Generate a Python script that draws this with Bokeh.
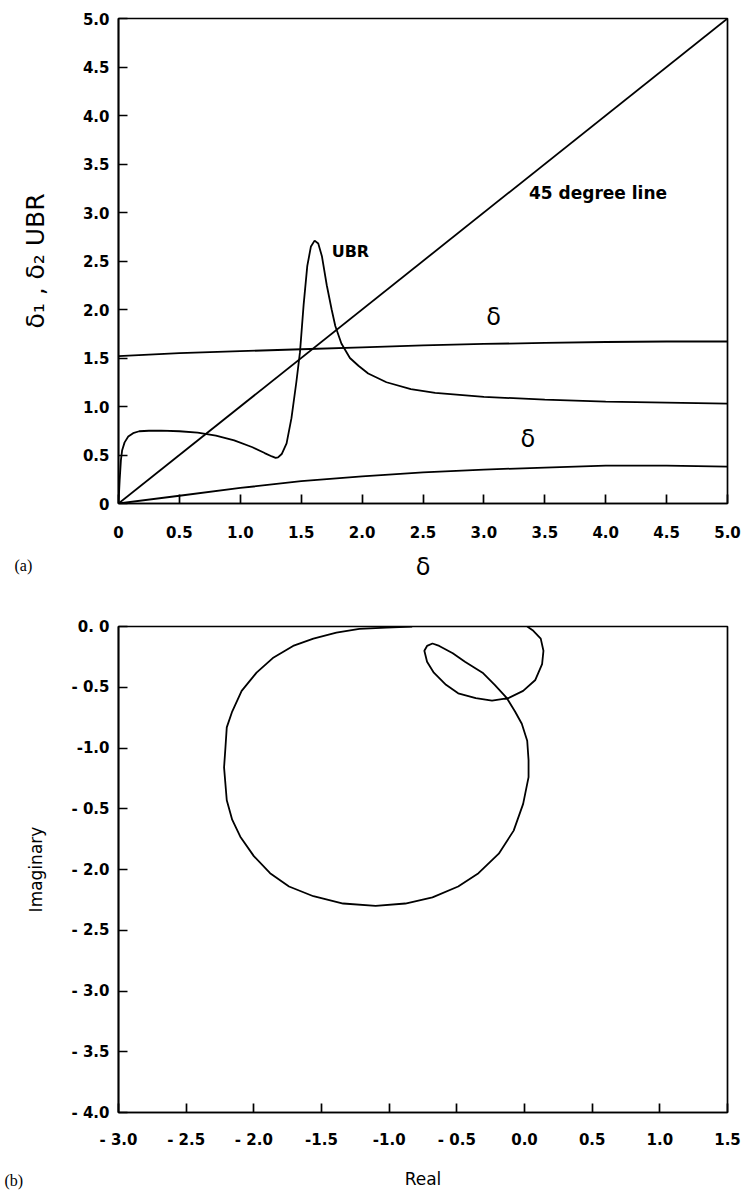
from bokeh.plotting import figure
from bokeh.layouts import column
from bokeh.models import Range1d, FixedTicker, Label
from bokeh.embed import file_html
from bokeh.resources import INLINE

# ---- panel (a): delta_1, delta_2 and UBR against delta ----
delta_x = [0.0, 0.5, 1.0, 1.5, 2.0, 2.5, 3.0, 3.5, 4.0, 4.5, 5.0]
delta_upper = [1.52, 1.55, 1.57, 1.59, 1.61, 1.63, 1.645, 1.655, 1.665, 1.67, 1.67]
delta_lower = [0.0, 0.08, 0.16, 0.23, 0.28, 0.32, 0.35, 0.37, 0.39, 0.39, 0.38]

ubr_x = [0.0, 0.01, 0.02, 0.03, 0.05, 0.08, 0.12, 0.17, 0.25, 0.35, 0.5, 0.65, 0.8,
         0.95, 1.1, 1.2, 1.26, 1.29, 1.31, 1.34, 1.38, 1.42, 1.46, 1.49, 1.52, 1.55,
         1.58, 1.61, 1.64, 1.67, 1.71, 1.75, 1.78, 1.83, 1.9, 1.97, 2.05, 2.2,
         2.4, 2.6, 2.8, 3.0, 3.5, 4.0, 4.5, 5.0]
ubr_y = [0.0, 0.25, 0.45, 0.55, 0.63, 0.69, 0.725, 0.745, 0.75, 0.752, 0.745, 0.73, 0.70,
         0.65, 0.58, 0.52, 0.485, 0.47, 0.475, 0.51, 0.62, 0.88, 1.25, 1.56, 2.05, 2.45,
         2.65, 2.71, 2.68, 2.55, 2.25, 2.0, 1.83, 1.65, 1.5, 1.42, 1.34, 1.25,
         1.18, 1.14, 1.12, 1.10, 1.07, 1.05, 1.04, 1.03]

line45_x = [0.0, 5.0]
line45_y = [0.0, 5.0]

a_ticks = [0, 0.5, 1, 1.5, 2, 2.5, 3, 3.5, 4, 4.5, 5]
a_tick_labels = ["0", "0.5", "1.0", "1.5", "2.0", "2.5", "3.0", "3.5", "4.0", "4.5", "5.0"]

# ---- panel (b): Nyquist locus (real, imaginary) ----
nyq_re = [0.02, 0.06, 0.12, 0.14, 0.13, 0.08, -0.01, -0.12, -0.24, -0.36, -0.49,
          -0.58, -0.67, -0.72, -0.74, -0.72, -0.68, -0.63, -0.53, -0.44, -0.31,
          -0.22, -0.13, -0.07, -0.02, 0.02, 0.03, 0.03, -0.01, -0.08, -0.19, -0.34,
          -0.49, -0.68, -0.88, -1.10, -1.34, -1.56, -1.74, -1.88, -2.00, -2.10,
          -2.16, -2.20, -2.22, -2.21, -2.20, -2.16, -2.09, -1.98, -1.86, -1.71,
          -1.56, -1.39, -1.22, -1.02, -0.83]
nyq_im = [0.0, -0.03, -0.10, -0.20, -0.31, -0.44, -0.53, -0.59, -0.61, -0.59, -0.55,
          -0.48, -0.38, -0.29, -0.20, -0.16, -0.14, -0.16, -0.22, -0.29, -0.38,
          -0.48, -0.59, -0.70, -0.80, -0.94, -1.10, -1.24, -1.46, -1.68, -1.87, -2.03,
          -2.14, -2.23, -2.28, -2.30, -2.28, -2.22, -2.14, -2.03, -1.89, -1.73,
          -1.59, -1.43, -1.16, -1.00, -0.83, -0.70, -0.53, -0.38, -0.26, -0.16,
          -0.10, -0.05, -0.02, -0.01, 0.0]

b_xticks = [-3, -2.5, -2, -1.5, -1, -0.5, 0, 0.5, 1, 1.5]
b_xtick_labels = ["- 3.0", "- 2.5", "- 2.0", "-1.5", "-1.0", "- 0.5", "0.0", "0.5", "1.0", "1.5"]
b_yticks = [0, -0.5, -1, -1.5, -2, -2.5, -3, -3.5, -4]
b_ytick_labels = ["0. 0", "- 0.5", "-1.0", "- 0.5", "- 2.0", "- 2.5", "- 3.0", "- 3.5", "- 4.0"]

FONT = "DejaVu Sans"
SERIF = "Liberation Serif"


def style(p, xt, xl, yt, yl):
    p.xgrid.visible = False
    p.ygrid.visible = False
    p.outline_line_color = "black"
    p.outline_line_width = 1.7
    p.xaxis.ticker = FixedTicker(ticks=xt)
    p.yaxis.ticker = FixedTicker(ticks=yt)
    p.xaxis.major_label_overrides = {t: s for t, s in zip(xt, xl)}
    p.yaxis.major_label_overrides = {t: s for t, s in zip(yt, yl)}
    for ax in (p.xaxis, p.yaxis):
        ax.major_tick_in = 9
        ax.major_tick_out = 0
        ax.minor_tick_line_color = None
        ax.axis_line_width = 1.7
        ax.axis_line_color = "black"
        ax.major_tick_line_width = 1.7
        ax.major_tick_line_color = "black"
        ax.major_label_text_font = FONT
        ax.major_label_text_font_size = "15px"
        ax.major_label_text_font_style = "bold"
        ax.major_label_text_color = "black"
        ax.axis_label_text_font = FONT
        ax.axis_label_text_font_style = "normal"
        ax.axis_label_text_color = "black"
    p.yaxis.major_label_standoff = 9


def panel_tag(p, text, x, y, side):
    # tag drawn in a side panel so that it can sit in the figure margin
    p.add_layout(Label(x=x, y=y, x_units="screen", y_units="screen", text=text,
                       text_font=SERIF, text_font_size="16px", text_color="black",
                       text_baseline="middle", text_align="left"), side)


# panel (a)
pa = figure(width=755, height=600, output_backend="svg", toolbar_location=None,
            x_range=Range1d(0, 5), y_range=Range1d(0, 5),
            min_border_left=116, min_border_right=28, min_border_top=18,
            min_border_bottom=95)
style(pa, a_ticks, a_tick_labels, a_ticks, a_tick_labels)
pa.xaxis.major_label_standoff = 22
pa.xaxis.axis_label = "δ"
pa.xaxis.axis_label_text_font_size = "24px"
pa.xaxis.axis_label_standoff = 12
pa.yaxis.axis_label = "δ₁ , δ₂ UBR"
pa.yaxis.axis_label_text_font_size = "25px"
pa.yaxis.axis_label_standoff = 30

pa.line(line45_x, line45_y, line_color="black", line_width=1.8)
pa.line(delta_x, delta_upper, line_color="black", line_width=1.8)
pa.line(delta_x, delta_lower, line_color="black", line_width=1.8)
pa.line(ubr_x, ubr_y, line_color="black", line_width=1.8)

for x, y, t, size, align in [(1.75, 2.6, "UBR", "16px", "left"),
                             (3.37, 3.2, "45 degree line", "17px", "left"),
                             (3.08, 1.92, "δ", "24px", "center"),
                             (3.36, 0.66, "δ", "24px", "center")]:
    pa.add_layout(Label(x=x, y=y, text=t, text_font=FONT, text_font_size=size,
                        text_font_style="bold" if len(t) > 1 else "normal",
                        text_color="black", text_baseline="middle", text_align=align))
panel_tag(pa, "(a)", -104, 35, "below")

# panel (b)
pb = figure(width=755, height=592, output_backend="svg", toolbar_location=None,
            x_range=Range1d(-3, 1.5), y_range=Range1d(-4, 0),
            min_border_left=118, min_border_right=20, min_border_top=26,
            min_border_bottom=80)
style(pb, b_xticks, b_xtick_labels, b_yticks, b_ytick_labels)
pb.xaxis.major_label_standoff = 18
pb.xaxis.axis_label = "Real"
pb.xaxis.axis_label_text_font_size = "17px"
pb.xaxis.axis_label_standoff = 17
pb.yaxis.axis_label = "Imaginary"
pb.yaxis.axis_label_text_font_size = "17px"
pb.yaxis.axis_label_standoff = 22

pb.line(nyq_re, nyq_im, line_color="black", line_width=1.8)
panel_tag(pb, "(b)", -723, -68, "right")

layout = column(pa, pb, spacing=0)
open("out.html", "w").write(file_html(layout, INLINE))
